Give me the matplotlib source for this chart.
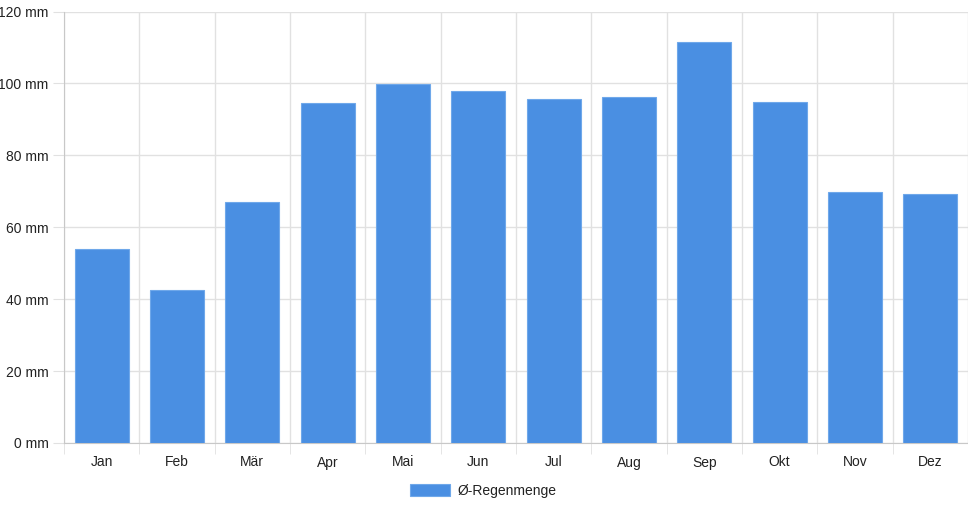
import matplotlib
matplotlib.use("Agg")
import matplotlib.pyplot as plt
from matplotlib.patches import Patch
import numpy as np

months = ["Jan", "Feb", "Mär", "Apr", "Mai", "Jun", "Jul", "Aug", "Sep", "Okt", "Nov", "Dez"]
rain = [53.9, 42.5, 66.9, 94.6, 99.8, 98.0, 95.7, 96.1, 111.5, 94.9, 69.7, 69.3]
yticks = [0, 20, 40, 60, 80, 100, 120]
series_label = "Ø-Regenmenge"

plt.rcParams['font.family'] = ['Liberation Sans', 'DejaVu Sans']

W, H = 968, 508
fig = plt.figure(figsize=(W / 100, H / 100), dpi=100)
left, right, top, bottom = 64, 968, 11.5, 443
ax = fig.add_axes([left / W, 1 - bottom / H, (right - left) / W, (bottom - top) / H])

x = np.arange(len(months))
bar_color = "#4a8fe2"
ax.bar(x, rain, width=0.72, color=bar_color, edgecolor="#6fa8ea", linewidth=0.8, zorder=3)

ax.set_xlim(-0.5, len(months) - 0.5)
ax.set_ylim(0, 120)

grid_c = "#e1e1e1"
ax.set_yticks(yticks)
ax.set_yticklabels([f"{v} mm" for v in yticks])
ax.set_xticks(x)
ax.set_xticklabels(months)
ax.set_xticks(np.arange(-0.5, len(months)), minor=True)

ax.grid(axis="y", color=grid_c, linewidth=1, zorder=0)
ax.grid(axis="x", which="minor", color=grid_c, linewidth=1, zorder=0)
ax.grid(axis="x", which="major", visible=False)

ax.tick_params(axis="y", length=8, color=grid_c, labelsize=10, labelcolor="#222222", pad=3)
ax.tick_params(axis="x", which="major", length=0, labelsize=10, labelcolor="#222222", pad=9)
ax.tick_params(axis="x", which="minor", length=8, color=grid_c)

for s in ["top", "right"]:
    ax.spines[s].set_visible(False)
ax.spines["left"].set_color("#c8c8c8")
ax.spines["bottom"].set_color("#c8c8c8")

handle = Patch(facecolor=bar_color, edgecolor="#6fa8ea", linewidth=0.8)
fig.legend([handle], [series_label], loc="center", bbox_to_anchor=(483 / W, 1 - 490.5 / H),
           frameon=False, fontsize=10, handlelength=2.9, handleheight=1.0, handletextpad=0.5,
           labelcolor="#222222")

fig.savefig("out.png", dpi=100)
